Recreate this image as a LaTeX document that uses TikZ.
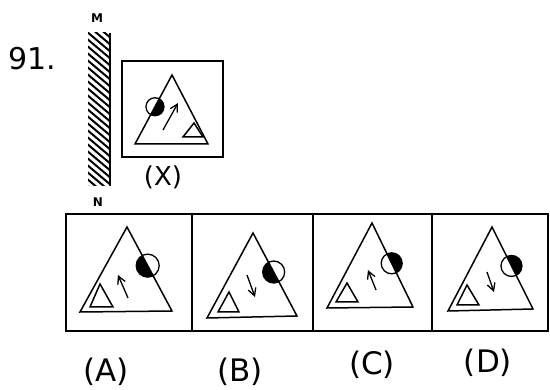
\documentclass[tikz,border=0pt]{standalone}
\usepackage{fontspec}
\setmainfont{DejaVu Sans}
\usetikzlibrary{arrows.meta,calc}

\tikzset{
	frame/.style={line width=1.4pt},
	tri/.style={line width=1.5pt, line join=miter},
	ring/.style={line width=1.3pt},
	pointer/.style={->, line width=1.3pt},
	tag/.style={font=\fontsize{31}{31}\selectfont}
}

\begin{document}
\begin{tikzpicture}[x=1pt, y=-1pt, >={Straight Barb[length=2.6mm, width=2.8mm]}, every node/.style={inner sep=0pt}]
	\useasboundingbox (0,0) rectangle (550,390);
	\node[font=\fontsize{30}{30}\selectfont] (num) at (32,59) {91.};
	% mirror MN
	\begin{scope}
		\clip (88,33) rectangle (110,186);
		\foreach \y in {10,17,...,190} {\draw[line width=2pt] (86,\y) -- (112,\y+22);}
	\end{scope}
	\draw[line width=1.6pt] (110,33) -- (110,186);
	\node[font=\bfseries\fontsize{12}{12}\selectfont] (m) at (97,18) {M};
	\node[font=\bfseries\fontsize{12}{12}\selectfont] (n) at (98,202) {N};

	% question figure (X)
	\draw[frame] (122,61) rectangle (223,157);
	\draw[tri] (172,75) coordinate (xT) -- (135,144) coordinate (xL) -- (208,144) coordinate (xR) -- cycle;
	\coordinate (xC) at ($(xT)!0.46!(xL)$);
	\begin{scope} \clip (xT) -- (xL) -- (xR) -- cycle; \fill (xC) circle[radius=9]; \end{scope}
	\draw[ring] (xC) circle[radius=9];
	\draw[tri] (194,123) -- (183,137) -- (203,137) -- cycle;
	\draw[pointer] (163,130) -- (178,103);
	\node[tag, font=\fontsize{26}{26}\selectfont] (labX) at (163,177) {(X)};

	% answer figures
	\foreach \l/\xa/\xb/\lx/\ly in {A/66/192/106/372, B/192/313/240/372, C/313/432/372/365, D/432/548/488/363} {
		\draw[frame] (\xa,214) rectangle (\xb,331);
		\node[tag] (lab\l) at (\lx,\ly) {(\l)};
	}

	% (A)
	\draw[tri] (127,227) coordinate (aT) -- (80,312) coordinate (aL) -- (172,311) coordinate (aR) -- cycle;
	\coordinate (aC) at ($(aT)!0.46!(aR)$);
	\begin{scope} \clip (aT) -- (aL) -- (aR) -- cycle; \fill (aC) circle[radius=11.5]; \end{scope}
	\draw[ring] (aC) circle[radius=11.5];
	\draw[tri] (100,284) -- (90,307) -- (113,307) -- cycle;
	\draw[pointer] (128,298) -- (118,275);

	% (B)
	\draw[tri] (253,233) coordinate (bT) -- (207,318) coordinate (bL) -- (297,316) coordinate (bR) -- cycle;
	\coordinate (bC) at ($(bT)!0.47!(bR)$);
	\begin{scope} \clip (bT) -- (bL) -- (bR) -- cycle; \fill (bC) circle[radius=11]; \end{scope}
	\draw[ring] (bC) circle[radius=11];
	\draw[tri] (229,292) -- (218,312) -- (239,312) -- cycle;
	\draw[pointer] (247,275) -- (255,297);

	% (C)
	\draw[tri] (372,223) coordinate (cT) -- (327,308) coordinate (cL) -- (413,307) coordinate (cR) -- cycle;
	\coordinate (cC) at ($(cT)!0.48!(cR)$);
	\begin{scope} \clip (cT) -- (cR) -- ($(cR)+(40,0)$) -- ($(cT)+(40,0)$) -- cycle; \fill (cC) circle[radius=10.5]; \end{scope}
	\draw[ring] (cC) circle[radius=10.5];
	\draw[tri] (347,283) -- (336,302) -- (358,302) -- cycle;
	\draw[pointer] (376,290) -- (368,270);

	% (D)
	\draw[tri] (492,227) coordinate (dT) -- (448,311) coordinate (dL) -- (533,309) coordinate (dR) -- cycle;
	\coordinate (dC) at ($(dT)!0.475!(dR)$);
	\begin{scope} \clip (dT) -- (dR) -- ($(dR)+(40,0)$) -- ($(dT)+(40,0)$) -- cycle; \fill (dC) circle[radius=10.5]; \end{scope}
	\draw[ring] (dC) circle[radius=10.5];
	\draw[tri] (467,285) -- (457,305) -- (479,305) -- cycle;
	\draw[pointer] (487,272) -- (494,292);
\end{tikzpicture}
\end{document}
